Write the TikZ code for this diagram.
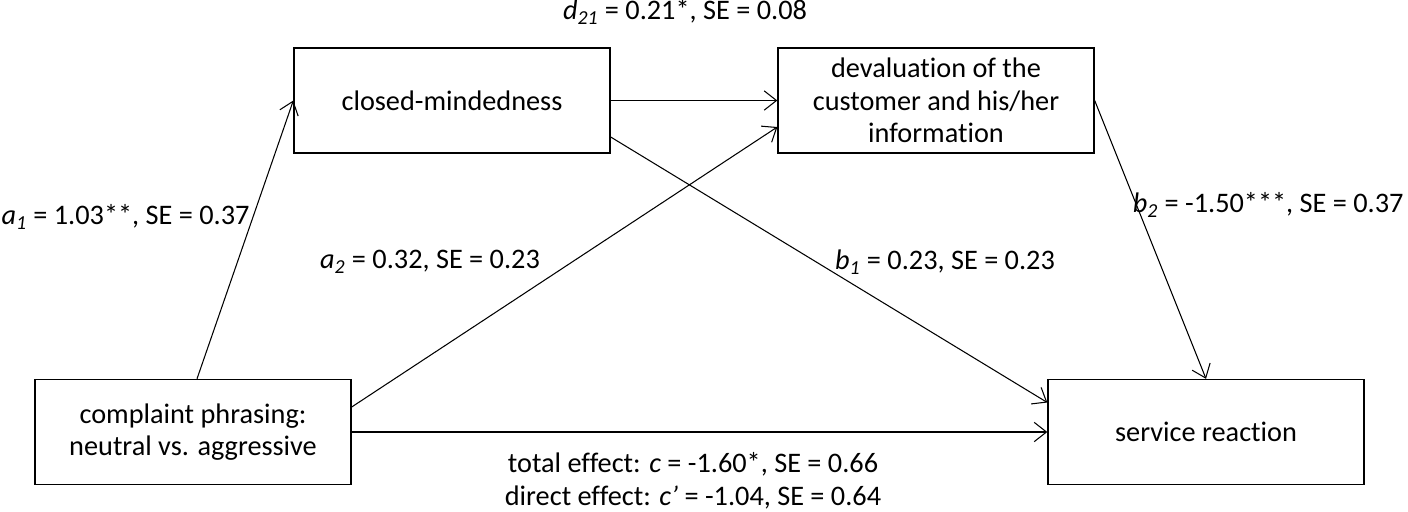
\documentclass[tikz,border=0pt]{standalone}
\usepackage{fontspec}
\setmainfont{Carlito}[Ligatures=NoCommon]
\usetikzlibrary{arrows.meta,positioning}

\tikzset{
  varbox/.style={draw,thick,rectangle,minimum width=6.32cm,minimum height=2.1cm,align=center,inner sep=2pt},
  coef/.style={inner sep=0pt,align=center}
}

\begin{document}
\begin{tikzpicture}[x=0.02cm,y=-0.02cm,->,>={Straight Barb[length=7pt,width=11pt]},semithick,
  every node/.style={font=\fontsize{16.1}{18.5}\selectfont}]
	  \useasboundingbox (0,0) rectangle (1408,511);
	  \node[varbox] (cm)   at (452,100.5)  {closed-mindedness};
	  \node[varbox] (dev)  at (936,100.5)  {devaluation of the\\customer and his/her\\information};
	  \node[varbox] (comp) at (193,432)    {complaint phrasing:\\neutral vs. aggressive};
	  \node[varbox] (serv) at (1206,432)   {service reaction};
	  \path
([xshift=0.08cm]comp.north) edge (cm.west)
(cm.east) edge (dev.east -| dev.west)
([yshift=0.5cm]comp.east) edge ([yshift=-0.53cm]dev.west)
([yshift=-0.73cm]cm.east) edge ([yshift=0.59cm]serv.west)
(dev.east) edge (serv.north)
(comp.east) edge (serv.west)
;
	  \node[coef] (d21) at (685,12)  {\textit{d\textsubscript{21}} = 0.21*, SE = 0.08};
	  \node[coef,anchor=west] (a1) at (1,217) {\textit{a\textsubscript{1}} = 1.03**, SE = 0.37};
	  \node[coef] (a2)  at (430,262) {\textit{a\textsubscript{2}} = 0.32, SE = 0.23};
	  \node[coef] (b1)  at (945,262) {\textit{b\textsubscript{1}} = 0.23, SE = 0.23};
	  \node[coef,anchor=east] (b2) at (1404,205) {\textit{b\textsubscript{2}} = -1.50***, SE = 0.37};
	  \node[coef] (c)   at (693,481) {total effect: \textit{c} = -1.60*, SE = 0.66\\direct effect: \textit{c’} = -1.04, SE = 0.64};
	\end{tikzpicture}
\end{document}
